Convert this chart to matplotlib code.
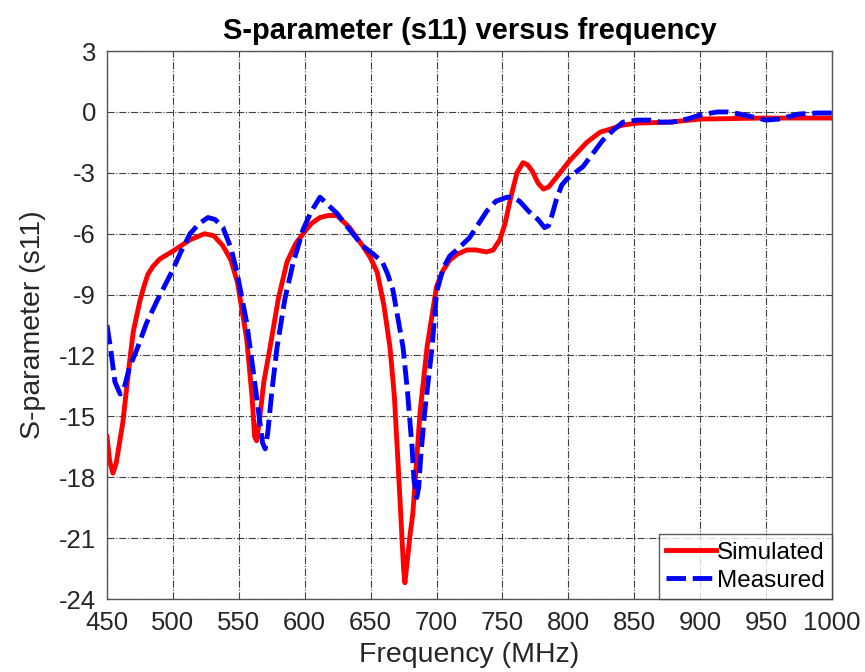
import matplotlib
matplotlib.use("Agg")
import matplotlib.pyplot as plt

plt.rcParams['font.family'] = ['Liberation Sans', 'DejaVu Sans']
plt.rcParams['axes.unicode_minus'] = False

# Simulated s11 (MHz, dB)
sim_freq = [450, 452, 454.5, 457, 462, 467.5, 470, 475, 478, 481, 485, 490, 495, 499, 506,
            513, 524, 531, 538, 544, 549, 556, 560, 562, 563.5, 566, 569, 573.7, 580,
            586.5, 593, 598.7, 605, 611.6, 618, 624.5, 634, 644, 650, 655, 660, 664.7,
            668, 670.8, 673, 675, 676, 677.5, 680, 682, 687.5, 692.8, 700, 705, 710, 716,
            723, 730, 738, 743, 748, 752, 756, 761, 765.6, 769, 772.5, 777, 781, 785, 790,
            801, 814, 824, 831.6, 841, 852, 877, 900, 950, 1000]
sim_s11 = [-16.0, -17.2, -17.8, -17.3, -15.3, -12.1, -10.8, -9.3, -8.6, -8.0, -7.6, -7.25,
           -7.05, -6.9, -6.6, -6.3, -6.0, -6.1, -6.6, -7.3, -8.4, -11.2, -14.0, -16.0,
           -16.2, -15.0, -13.3, -11.6, -9.2, -7.4, -6.5, -6.0, -5.5, -5.2, -5.1, -5.1,
           -5.7, -6.6, -7.2, -7.9, -9.5, -11.6, -14.0, -17.3, -20.0, -22.5, -23.2, -22.3,
           -20.8, -19.8, -14.8, -11.6, -8.6, -7.8, -7.3, -7.0, -6.8, -6.8, -6.9, -6.8,
           -6.3, -5.5, -4.3, -3.0, -2.5, -2.6, -2.9, -3.5, -3.8, -3.7, -3.3, -2.4, -1.5,
           -1.0, -0.85, -0.65, -0.55, -0.5, -0.35, -0.3, -0.3]

# Measured s11 (MHz, dB)
meas_freq = [450, 453, 456, 460, 463, 467, 472.7, 480, 488, 499, 506, 513, 520, 526.6,
             532, 538, 544, 548.6, 556, 561, 566, 568, 570, 572, 575, 579, 585, 591,
             598.7, 605, 611.6, 618, 624.5, 634, 644, 652, 659, 663, 667, 674.6, 678,
             681.4, 683, 685, 686.5, 688, 691, 696.6, 700, 705, 710, 717, 725, 732, 738,
             745, 753.5, 758, 763, 770, 777, 782, 785, 788, 791, 795, 799, 805, 811, 818,
             826, 834, 841.5, 852, 862, 870, 879, 890, 900, 913, 921, 930, 940, 950, 960,
             975, 990, 1000]
meas_s11 = [-10.5, -11.8, -13.3, -13.9, -13.6, -12.6, -11.7, -10.4, -9.3, -7.9, -6.9,
            -6.0, -5.5, -5.2, -5.3, -5.7, -6.7, -7.9, -10.4, -12.8, -15.3, -16.3, -16.6,
            -15.8, -13.8, -11.6, -9.2, -7.5, -5.8, -4.9, -4.2, -4.6, -5.0, -5.8, -6.6,
            -7.0, -7.4, -8.0, -8.8, -11.6, -13.8, -16.5, -18.2, -19.0, -18.5, -17.0,
            -14.8, -11.6, -8.9, -7.7, -7.1, -6.7, -6.2, -5.5, -4.9, -4.4, -4.2, -4.2,
            -4.4, -4.9, -5.3, -5.7, -5.6, -5.0, -4.3, -3.6, -3.3, -3.0, -2.7, -2.1, -1.4,
            -0.9, -0.5, -0.4, -0.4, -0.5, -0.5, -0.35, -0.15, 0.0, 0.0, -0.1, -0.25, -0.4,
            -0.35, -0.1, -0.05, -0.05]

x_ticks = list(range(450, 1001, 50))
y_ticks = list(range(-24, 4, 3))

fig = plt.figure(figsize=(8.65, 6.72), dpi=100)
ax = fig.add_axes([0.1237, 0.1086, 0.8381, 0.8154])

ax.plot(sim_freq, sim_s11, color='#ff0000', linewidth=3.5, linestyle='-', label='Simulated')
ax.plot(meas_freq, meas_s11, color='#0000ff', linewidth=3.5, linestyle=(0, (4, 1.4)),
        label='Measured')

ax.set_xlim(450, 1000)
ax.set_ylim(-24, 3)
ax.set_xticks(x_ticks)
ax.set_yticks(y_ticks)
ax.grid(True, linestyle='-.', color='#404040', linewidth=0.8)
ax.tick_params(direction='in', length=0, labelsize=18.5, colors='#262626')
ax.tick_params(axis='x', pad=8.5)
ax.tick_params(axis='y', pad=8)
for s in ax.spines.values():
    s.set_color('#555555')
    s.set_linewidth(1.0)

ax.set_title('S-parameter (s11) versus frequency', fontsize=21, fontweight='bold', pad=9)
ax.set_xlabel('Frequency (MHz)', fontsize=20.5, color='#262626')
ax.xaxis.set_label_coords(0.5, -0.078)
ax.set_ylabel('S-parameter (s11)', fontsize=20.5, color='#262626', labelpad=9)

leg = ax.legend(loc='lower right', fontsize=17.5, frameon=True, fancybox=False,
                borderaxespad=0, handlelength=2.05, handletextpad=0.05,
                borderpad=0.3, labelspacing=0.25)
leg.get_frame().set_edgecolor('#333333')
leg.get_frame().set_linewidth(1.0)

fig.savefig('out.png', dpi=100)
